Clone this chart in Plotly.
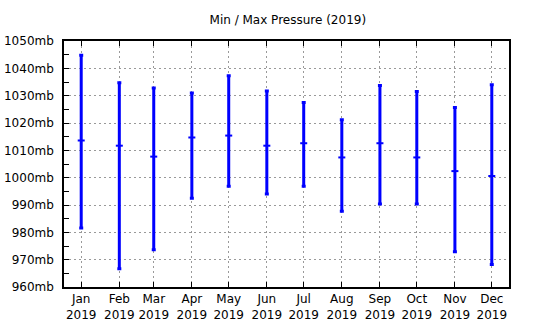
import plotly.graph_objects as go

months = ["2019-01-01", "2019-02-01", "2019-03-01", "2019-04-01", "2019-05-01", "2019-06-01",
          "2019-07-01", "2019-08-01", "2019-09-01", "2019-10-01", "2019-11-01", "2019-12-01"]
tick_labels = ["Jan<br>2019", "Feb<br>2019", "Mar<br>2019", "Apr<br>2019", "May<br>2019", "Jun<br>2019",
               "Jul<br>2019", "Aug<br>2019", "Sep<br>2019", "Oct<br>2019", "Nov<br>2019", "Dec<br>2019"]
p_max = [1044.8, 1034.7, 1032.8, 1031.0, 1037.3, 1031.7, 1027.5, 1021.2, 1033.7, 1031.5, 1025.7, 1034.0]
p_mid = [1013.6, 1011.7, 1007.7, 1014.7, 1015.4, 1011.7, 1012.6, 1007.4, 1012.6, 1007.4, 1002.4, 1000.6]
p_min = [981.6, 966.7, 973.6, 992.5, 996.9, 994.0, 996.9, 987.7, 990.4, 990.4, 972.9, 968.2]
y_ticks = [960, 970, 980, 990, 1000, 1010, 1020, 1030, 1040, 1050]
y_labels = [f"{v}mb" for v in y_ticks]

blue = "#0000ff"
fig = go.Figure()
fig.add_trace(go.Scatter(
    x=months, y=p_mid, mode="markers",
    marker=dict(symbol="line-ew", size=5, color=blue, line=dict(color=blue, width=2)),
    error_y=dict(type="data", symmetric=False,
                 array=[a - m for a, m in zip(p_max, p_mid)],
                 arrayminus=[m - b for m, b in zip(p_mid, p_min)],
                 color=blue, thickness=3, width=2),
    showlegend=False, hoverinfo="skip",
))

grid = dict(showgrid=True, gridcolor="#999999", gridwidth=1, griddash="2px,3px")
font = dict(family="DejaVu Sans", size=12, color="black")

fig.update_layout(
    width=540, height=330,
    margin=dict(l=64, r=31, t=41, b=43),
    paper_bgcolor="white", plot_bgcolor="white",
    title=dict(text="Min / Max Pressure (2019)", x=0.533, xanchor="center", y=0.94, yanchor="middle",
               font=dict(family="DejaVu Sans", size=12, color="black")),
    xaxis=dict(type="date", range=["2018-12-18", "2019-12-15"], automargin=False,
               tickmode="array", tickvals=months, ticktext=tick_labels,
               ticks="inside", ticklen=5, tickcolor="black", tickwidth=1,
               showline=True, linecolor="black", linewidth=1.5, mirror="ticks",
               tickfont=font, zeroline=False, **grid),
    yaxis=dict(range=[960, 1050], automargin=False, tickmode="array", tickvals=y_ticks, ticktext=y_labels,
               ticks="inside", ticklen=5, tickcolor="black", tickwidth=1,
               showline=True, linecolor="black", linewidth=1.5, mirror=True,
               minor=dict(dtick=5, ticks="inside", ticklen=5, tickcolor="black", showgrid=False),
               tickfont=font, zeroline=False, ticklabelstandoff=6, **grid),
)

fig.write_html("out.html")
